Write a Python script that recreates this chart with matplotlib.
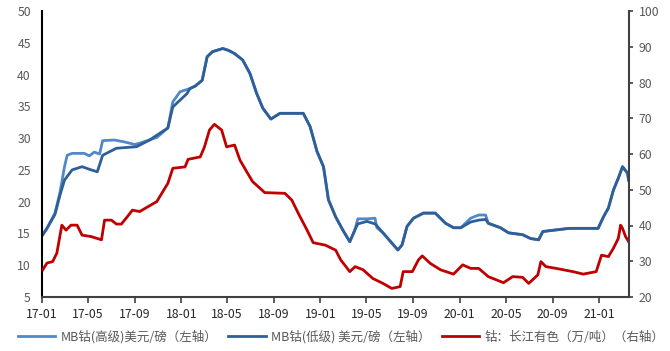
# import modules
import pandas as pd
import matplotlib
matplotlib.use('Agg')
import matplotlib.pyplot as plt
import matplotlib.dates as mdates

plt.rcParams['font.family'] = ['Noto Sans CJK SC', 'DejaVu Sans']

# MB cobalt high grade, USD/lb (left axis)
high_dates = ['2017-01-03', '2017-01-14', '2017-02-04', '2017-02-17', '2017-03-01', '2017-03-08',
              '2017-03-21', '2017-04-22', '2017-05-05', '2017-05-18', '2017-06-01', '2017-06-09',
              '2017-07-10', '2017-08-05', '2017-09-01', '2017-09-14', '2017-10-29', '2017-11-27',
              '2017-12-10', '2017-12-29', '2018-01-24', '2018-02-07', '2018-02-25', '2018-03-10',
              '2018-03-24', '2018-04-20', '2018-05-05', '2018-05-21', '2018-06-11', '2018-06-30',
              '2018-07-18', '2018-08-03', '2018-08-24', '2018-09-17', '2018-11-17', '2018-12-05',
              '2018-12-23', '2019-01-09', '2019-01-22', '2019-02-10', '2019-03-01', '2019-03-19',
              '2019-04-01', '2019-04-09', '2019-05-03', '2019-05-24', '2019-05-29', '2019-06-14',
              '2019-07-07', '2019-07-23', '2019-08-03', '2019-08-16', '2019-09-02', '2019-09-28',
              '2019-10-29', '2019-11-25', '2019-12-16', '2020-01-04', '2020-01-30', '2020-02-20',
              '2020-03-09', '2020-03-16', '2020-04-17', '2020-05-08', '2020-06-14', '2020-07-05',
              '2020-07-26', '2020-08-06', '2020-09-02', '2020-10-14', '2020-12-29', '2021-01-12',
              '2021-01-25', '2021-02-07', '2021-02-20', '2021-03-03', '2021-03-16', '2021-03-19']
high_vals = [14.8, 15.8, 18.2, 21.4, 25.5, 27.3,
             27.6, 27.6, 27.2, 27.8, 27.5, 29.6,
             29.7, 29.4, 29.0, 29.2, 30.1, 31.6,
             35.7, 37.3, 37.8, 38.2, 39.1, 42.8,
             43.6, 44.1, 43.8, 43.3, 42.3, 40.2,
             37.0, 34.7, 33.0, 33.9, 33.9, 31.8,
             27.9, 25.5, 20.3, 17.6, 15.5, 13.7,
             15.5, 17.3, 17.3, 17.4, 15.9, 15.1,
             13.5, 12.4, 13.2, 16.1, 17.4, 18.2,
             18.2, 16.6, 15.9, 15.9, 17.4, 17.9,
             17.9, 16.6, 15.9, 15.1, 14.8, 14.2,
             14.0, 15.3, 15.5, 15.8, 15.8, 17.6,
             19.0, 21.8, 23.7, 25.5, 24.5, 23.4]

# MB cobalt low grade, USD/lb (left axis)
low_dates = ['2017-01-03', '2017-01-14', '2017-02-04', '2017-02-17', '2017-03-01', '2017-03-21',
             '2017-04-16', '2017-05-10', '2017-05-26', '2017-06-09', '2017-07-15', '2017-09-06',
             '2017-10-10', '2017-11-27', '2017-12-10', '2018-01-16', '2018-01-24', '2018-02-07',
             '2018-02-25', '2018-03-10', '2018-03-24', '2018-04-20', '2018-05-05', '2018-05-21',
             '2018-06-11', '2018-06-30', '2018-07-18', '2018-08-03', '2018-08-24', '2018-09-17',
             '2018-11-17', '2018-12-05', '2018-12-23', '2019-01-09', '2019-01-22', '2019-02-10',
             '2019-03-01', '2019-03-19', '2019-04-01', '2019-04-09', '2019-05-03', '2019-05-24',
             '2019-05-29', '2019-06-14', '2019-07-07', '2019-07-23', '2019-08-03', '2019-08-16',
             '2019-09-02', '2019-09-28', '2019-10-29', '2019-11-25', '2019-12-16', '2020-01-04',
             '2020-01-30', '2020-02-20', '2020-03-09', '2020-03-16', '2020-04-17', '2020-05-08',
             '2020-06-14', '2020-07-05', '2020-07-26', '2020-08-06', '2020-09-02', '2020-10-14',
             '2020-12-29', '2021-01-12', '2021-01-25', '2021-02-07', '2021-02-20', '2021-03-03',
             '2021-03-16', '2021-03-19']
low_vals = [14.8, 15.8, 18.0, 21.0, 23.4, 25.0,
            25.5, 25.0, 24.7, 27.3, 28.4, 28.65,
            29.7, 31.6, 34.9, 37.0, 37.8, 38.2,
            39.1, 42.8, 43.6, 44.1, 43.8, 43.3,
            42.3, 40.2, 37.0, 34.7, 33.0, 33.9,
            33.9, 31.8, 27.9, 25.5, 20.3, 17.6,
            15.5, 13.7, 15.5, 16.5, 16.9, 16.5,
            16.2, 15.1, 13.5, 12.4, 13.2, 16.1,
            17.4, 18.2, 18.2, 16.6, 15.9, 15.9,
            16.8, 17.1, 17.2, 16.6, 15.9, 15.1,
            14.8, 14.2, 14.0, 15.3, 15.5, 15.8,
            15.8, 17.6, 19.0, 21.8, 23.7, 25.5,
            24.5, 23.4]

# Changjiang cobalt price, 10k CNY/t (right axis)
co_dates = ['2017-01-03', '2017-01-14', '2017-01-29', '2017-02-09', '2017-02-22', '2017-03-05',
            '2017-03-18', '2017-04-03', '2017-04-16', '2017-05-10', '2017-06-06', '2017-06-14',
            '2017-07-02', '2017-07-15', '2017-07-28', '2017-08-13', '2017-08-26', '2017-09-14',
            '2017-10-29', '2017-11-27', '2017-12-10', '2018-01-11', '2018-01-19', '2018-02-20',
            '2018-03-03', '2018-03-16', '2018-03-29', '2018-04-17', '2018-04-30', '2018-05-21',
            '2018-06-04', '2018-06-22', '2018-07-07', '2018-08-08', '2018-09-30', '2018-10-18',
            '2018-11-04', '2018-11-27', '2018-12-13', '2019-01-14', '2019-02-10', '2019-02-23',
            '2019-03-19', '2019-04-02', '2019-04-23', '2019-05-18', '2019-06-14', '2019-07-07',
            '2019-07-29', '2019-08-06', '2019-08-30', '2019-09-15', '2019-09-25', '2019-10-16',
            '2019-11-12', '2019-12-16', '2020-01-09', '2020-01-30', '2020-02-20', '2020-03-16',
            '2020-04-25', '2020-05-19', '2020-06-14', '2020-06-30', '2020-07-24', '2020-08-01',
            '2020-08-14', '2020-09-10', '2020-10-24', '2020-11-20', '2020-12-24', '2021-01-07',
            '2021-01-25', '2021-02-07', '2021-02-20', '2021-02-26', '2021-03-03', '2021-03-11',
            '2021-03-19']
co_vals = [27.6, 29.5, 29.9, 32.3, 40.1, 38.7,
           40.1, 40.1, 37.3, 36.9, 36.0, 41.5,
           41.5, 40.4, 40.4, 42.5, 44.3, 43.9,
           46.7, 51.8, 56.0, 56.4, 58.5, 59.2,
           62.0, 66.7, 68.3, 66.7, 62.0, 62.5,
           58.3, 55.0, 52.3, 49.2, 49.0, 47.1,
           43.4, 38.7, 35.2, 34.5, 33.1, 30.4,
           27.1, 28.5, 27.6, 25.2, 23.8, 22.4,
           22.9, 27.1, 27.1, 30.4, 31.5, 29.4,
           27.6, 26.4, 29.0, 28.0, 28.0, 25.7,
           24.0, 25.7, 25.5, 23.8, 26.2, 29.9,
           28.5, 28.0, 27.1, 26.4, 27.1, 31.7,
           31.3, 33.6, 36.4, 40.1, 39.2, 36.9,
           35.5]

labels = ['MB钴(高级)美元/磅（左轴）', 'MB钴(低级) 美元/磅（左轴）', '钴：长江有色（万/吨）（右轴）']
x_ticks = pd.date_range('2017-01-01', '2021-01-01', freq='4MS')

# colours and text style
c_high = '#5088C8'
c_low = '#2F5F98'
c_red = '#C00000'
txt_col = '#595959'
fs = 8.8

fig = plt.figure(figsize=(6.7, 3.51), dpi=100)
ax1 = fig.add_axes([42 / 670, 1 - 297 / 351, (629 - 42) / 670, (297 - 11) / 351])
ax2 = ax1.twinx()

l1, = ax1.plot(pd.to_datetime(high_dates), high_vals, color=c_high, linewidth=2.0)
l2, = ax1.plot(pd.to_datetime(low_dates), low_vals, color=c_low, linewidth=2.0)
l3, = ax2.plot(pd.to_datetime(co_dates), co_vals, color=c_red, linewidth=2.0)

ax1.set_xlim(pd.Timestamp('2017-01-01'), pd.Timestamp('2021-03-20'))
ax1.set_ylim(5, 50)
ax1.set_yticks(range(5, 51, 5))
ax2.set_ylim(20, 100)
ax2.set_yticks(range(20, 101, 10))

ax1.set_xticks(x_ticks)
ax1.xaxis.set_major_formatter(mdates.DateFormatter('%y-%m'))

# spines
for ax in (ax1, ax2):
    ax.spines['top'].set_visible(False)
ax1.spines['right'].set_visible(False)
ax2.spines['left'].set_visible(False)
ax2.spines['bottom'].set_visible(False)
ax1.spines['left'].set_color('#000000')
ax1.spines['bottom'].set_color('#404040')
ax2.spines['right'].set_color('#404040')
for sp in (ax1.spines['left'], ax1.spines['bottom'], ax2.spines['right']):
    sp.set_linewidth(1.5)

ax1.tick_params(axis='y', length=0, pad=8, labelsize=fs, labelcolor=txt_col)
ax1.tick_params(axis='x', length=4, width=1.2, color='#404040', direction='out',
                pad=4, labelsize=fs, labelcolor='#262626')
ax2.tick_params(axis='y', length=3, width=1.2, color='#404040', direction='out',
                pad=4, labelsize=fs, labelcolor=txt_col)

fig.legend([l1, l2, l3], labels, loc='center', bbox_to_anchor=(0.509, 1 - 337 / 351),
           ncol=3, frameon=False, fontsize=9.0, handlelength=3.0, handletextpad=0.4,
           columnspacing=0.9, labelcolor=txt_col)

fig.savefig('out.png', dpi=100)
